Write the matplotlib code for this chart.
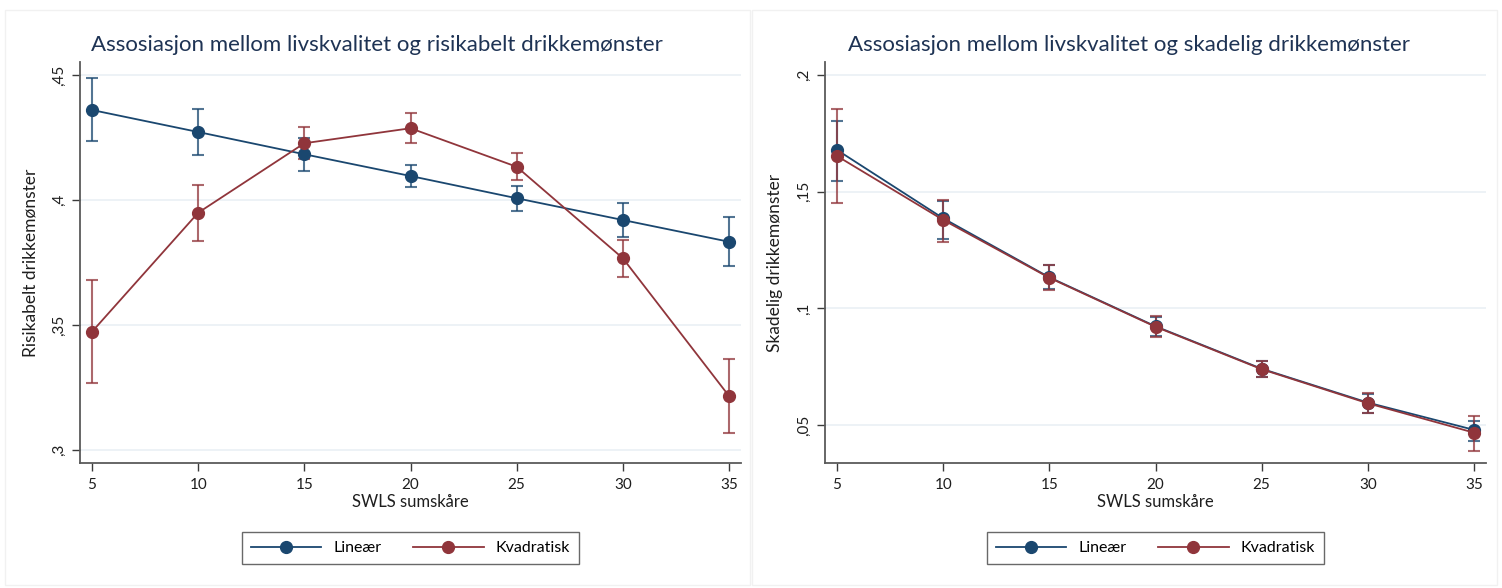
import matplotlib
matplotlib.use("Agg")
import matplotlib.pyplot as plt
from matplotlib.lines import Line2D
from matplotlib.patches import Rectangle

plt.rcParams['font.family'] = ['Lato', 'DejaVu Sans']

# SWLS sumskåre
swls = [5, 10, 15, 20, 25, 30, 35]

# Risikabelt drikkemønster
risk_lin = [0.436, 0.4272, 0.4183, 0.4096, 0.4007, 0.392, 0.3833]
risk_lin_lo = [0.4237, 0.4179, 0.4117, 0.4051, 0.3957, 0.3851, 0.3736]
risk_lin_hi = [0.4487, 0.4365, 0.4247, 0.4141, 0.4056, 0.3989, 0.3931]
risk_quad = [0.3473, 0.3949, 0.4227, 0.4287, 0.4133, 0.3767, 0.3216]
risk_quad_lo = [0.3267, 0.3836, 0.4163, 0.4227, 0.408, 0.3691, 0.3067]
risk_quad_hi = [0.368, 0.406, 0.4291, 0.4349, 0.4187, 0.384, 0.3364]

# Skadelig drikkemønster
harm_lin = [0.1679, 0.1386, 0.1133, 0.0923, 0.0741, 0.0596, 0.0479]
harm_lin_lo = [0.1547, 0.1297, 0.1082, 0.0883, 0.0707, 0.0553, 0.0433]
harm_lin_hi = [0.1804, 0.1462, 0.1184, 0.0963, 0.0774, 0.0633, 0.0519]
harm_quad = [0.1653, 0.1379, 0.1131, 0.0921, 0.0739, 0.0593, 0.0467]
harm_quad_lo = [0.1453, 0.1286, 0.1079, 0.0879, 0.0704, 0.055, 0.039]
harm_quad_hi = [0.1854, 0.1464, 0.1186, 0.0967, 0.0775, 0.0636, 0.054]

risk_ticks = [0.3, 0.35, 0.4, 0.45]
risk_ticklabels = [",3", ",35", ",4", ",45"]
harm_ticks = [0.05, 0.1, 0.15, 0.2]
harm_ticklabels = [",05", ",1", ",15", ",2"]

titles = ["Assosiasjon mellom livskvalitet og risikabelt drikkemønster",
          "Assosiasjon mellom livskvalitet og skadelig drikkemønster"]
ylabels = ["Risikabelt drikkemønster", "Skadelig drikkemønster"]
xlabel = "SWLS sumskåre"
series_names = ["Lineær", "Kvadratisk"]

navy = "#1a476f"
maroon = "#90353b"
txt = "#1e1e1e"
title_col = "#1e3354"

W, H = 1502, 588
fig = plt.figure(figsize=(W / 100, H / 100), dpi=100)
fig.patch.set_facecolor("white")

# faint panel frames
for x0 in (5, 752):
    fig.patches.append(Rectangle((x0 / W, 3 / H), 745 / W, 575 / H,
                                 transform=fig.transFigure, fill=False,
                                 edgecolor="#f1f1f1", linewidth=1))

panels = [
    (80, risk_lin, risk_lin_lo, risk_lin_hi, risk_quad, risk_quad_lo, risk_quad_hi,
     risk_ticks, risk_ticklabels, (0.2948, 0.4552)),
    (825, harm_lin, harm_lin_lo, harm_lin_hi, harm_quad, harm_quad_lo, harm_quad_hi,
     harm_ticks, harm_ticklabels, (0.0337, 0.2056)),
]

for i, (left, lin, lin_lo, lin_hi, quad, quad_lo, quad_hi, yt, ytl, ylim) in enumerate(panels):
    ax = fig.add_axes([left / W, (H - 463) / H, 661 / W, 401 / H])
    for yv, lo, hi, col in ((lin, lin_lo, lin_hi, navy), (quad, quad_lo, quad_hi, maroon)):
        err = [[v - l for v, l in zip(yv, lo)], [h - v for v, h in zip(yv, hi)]]
        ax.errorbar(swls, yv, yerr=err, fmt="none", ecolor=col, alpha=0.75,
                    elinewidth=1.5, capsize=4, capthick=1.5, zorder=2)
        ax.plot(swls, yv, color=col, lw=1.3, marker="o", markersize=8.5, zorder=3)

    ax.set_xlim(4.435, 35.565)
    ax.set_ylim(*ylim)
    ax.set_xticks(swls)
    ax.set_xticklabels([str(s) for s in swls])
    ax.set_yticks(yt)
    ax.set_yticklabels(ytl, rotation=90, va="center")
    ax.grid(axis="y", color="#eaf0f5", linewidth=1.2)
    ax.set_axisbelow(True)
    for s in ("top", "right"):
        ax.spines[s].set_visible(False)
    for s in ("left", "bottom"):
        ax.spines[s].set_color("#5a5a5a")
        ax.spines[s].set_linewidth(1.3)
    ax.tick_params(axis="both", colors="#3a3a3a", labelcolor=txt, labelsize=11,
                   length=6, width=1)
    ax.tick_params(axis="x", pad=5)
    ax.tick_params(axis="y", pad=4)
    ax.set_xlabel(xlabel, fontsize=12, color=txt, labelpad=1)
    ax.set_ylabel(ylabels[i], fontsize=12.5, color=txt)
    ax.yaxis.set_label_coords(-0.0635, 0.5)

    fig.text((5 + 752 * i + 372) / W, 1 - 45 / H, titles[i], ha="center", va="center",
             fontsize=16, color=title_col)

    handles = [Line2D([], [], color=navy, lw=1.3, marker="o", markersize=8.5),
               Line2D([], [], color=maroon, lw=1.3, marker="o", markersize=8.5)]
    leg = ax.legend(handles, series_names, loc="center", bbox_to_anchor=(0.5, -0.212),
                    ncol=2, frameon=True, fancybox=False, fontsize=11.5,
                    handlelength=4.4, columnspacing=2.0, borderpad=0.55,
                    handletextpad=0.75)
    leg.get_frame().set_edgecolor("#444444")
    leg.get_frame().set_linewidth(1)

fig.savefig("out.png", dpi=100, facecolor="white")
